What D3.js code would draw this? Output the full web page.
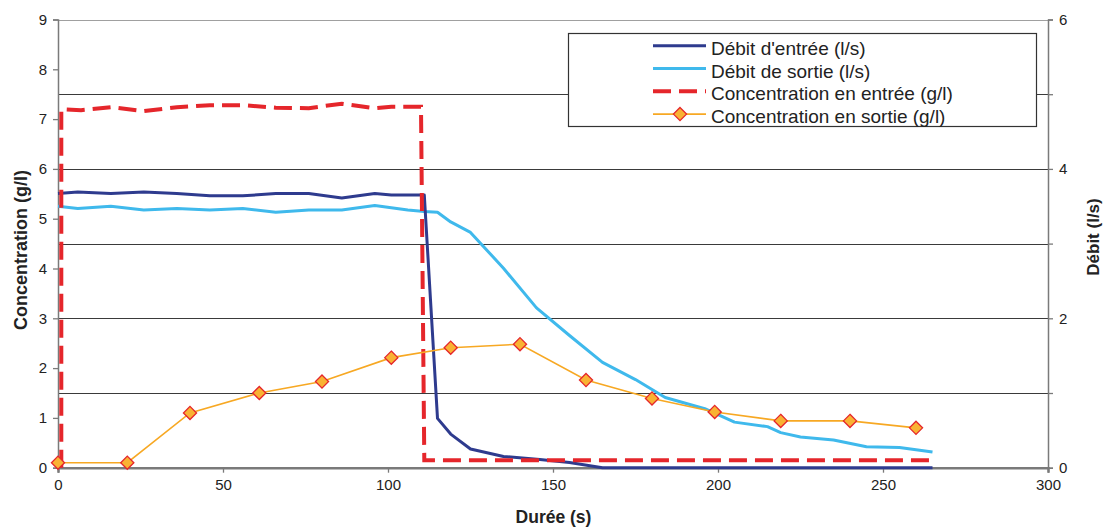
<!DOCTYPE html>
<html><head><meta charset="utf-8">
<script src="https://cdn.jsdelivr.net/npm/d3@7"></script>
<style>
body{margin:0;background:#fff;}
svg text{font-family:"Liberation Sans",Arial,sans-serif;fill:#222;}
</style></head>
<body><svg id="c" width="1104" height="528"></svg>
<script>
// Débit d'entrée (l/s) — right axis
const debitEntreeT = [0,6,16,26,36,46,56,66,76,86,96,101,111,115,119,125,135,146,155,165,175,185,195,205,215,225,235,245,255,265];
const debitEntreeV = [3.67,3.69,3.67,3.69,3.67,3.64,3.64,3.67,3.67,3.61,3.67,3.65,3.65,0.66,0.45,0.25,0.15,0.11,0.07,0,0,0,0,0,0,0,0,0,0,0];
// Débit de sortie (l/s) — right axis
const debitSortieT = [0,6,16,26,36,46,56,66,76,86,96,106,111,115,119,125,135,145,155,165,175,184,196,205,215,219,225,235,245,255,265];
const debitSortieV = [3.50,3.47,3.50,3.45,3.47,3.45,3.47,3.42,3.45,3.45,3.51,3.45,3.43,3.42,3.29,3.15,2.67,2.14,1.77,1.41,1.18,0.94,0.79,0.61,0.55,0.47,0.41,0.37,0.28,0.27,0.21];
// Concentration en entrée (g/l) — left axis
const concEntreeT = [1,1,7,16,26,36,46,56,66,76,86,96,101,110,111,114,125,135,145,155,165,175,185,195,205,215,225,235,245,255,265];
const concEntreeV = [0,7.20,7.18,7.24,7.16,7.24,7.28,7.28,7.23,7.22,7.31,7.22,7.25,7.25,0.15,0.15,0.15,0.15,0.15,0.15,0.15,0.15,0.15,0.15,0.15,0.15,0.15,0.15,0.15,0.15,0.15];
// Concentration en sortie (g/l) — left axis
const concSortieT = [0,21,40,61,80,101,119,140,160,180,199,219,240,260];
const concSortieV = [0.1,0.1,1.1,1.5,1.73,2.21,2.41,2.48,1.76,1.39,1.12,0.94,0.94,0.80];

const xTicks = [0,50,100,150,200,250,300];
const yLeftTicks = [0,1,2,3,4,5,6,7,8,9];
const yRightTicks = [0,1,2,3,4,5,6];
const yRightLabels = [0,2,4,6];
const legendLabels = ["Débit d'entrée (l/s)","Débit de sortie (l/s)","Concentration en entrée (g/l)","Concentration en sortie (g/l)"];

const L=58, R=1048, T=19.5, B=467.7;
const svg = d3.select("#c");
const x = d3.scaleLinear().domain([0,300]).range([L,R]);
const yL = d3.scaleLinear().domain([0,9]).range([B,T]);
const yR = d3.scaleLinear().domain([0,6]).range([B,T]);

// gridlines (right axis majors)
svg.append("g").selectAll("line").data(yRightTicks.filter(d=>d>0)).join("line")
  .attr("x1",L).attr("x2",R).attr("y1",d=>Math.round(yR(d))+0.5).attr("y2",d=>Math.round(yR(d))+0.5)
  .attr("stroke",d=>d===6?"#a0a0a0":"#3a3a3a").attr("stroke-width",1);

// axes
const fmt = d3.format("d");
const gL = svg.append("g").attr("transform",`translate(${L},0)`)
  .call(d3.axisLeft(yL).tickValues(yLeftTicks).tickFormat(fmt).tickSize(5).tickPadding(6));
const gR = svg.append("g").attr("transform",`translate(${R},0)`)
  .call(d3.axisRight(yR).tickValues(yRightTicks).tickFormat(d=>yRightLabels.includes(d)?fmt(d):"").tickSize(5).tickPadding(6));
const gB = svg.append("g").attr("transform",`translate(0,${B})`)
  .call(d3.axisBottom(x).tickValues(xTicks).tickFormat(fmt).tickSize(5).tickPadding(7));
[gL,gR,gB].forEach(g=>{
  g.selectAll("path.domain").attr("stroke","#7a7a7a").attr("stroke-width",1.5);
  g.selectAll(".tick line").attr("stroke","#7a7a7a").attr("stroke-width",1.3);
  g.selectAll(".tick text").style("font-size","15px").attr("fill","#222");
});
gB.select("path.domain").attr("stroke-width",2.5);

// series
const lineR = d3.line().x(d=>x(d[0])).y(d=>yR(d[1]));
const lineL = d3.line().x(d=>x(d[0])).y(d=>yL(d[1]));
const zip=(a,b)=>a.map((t,i)=>[t,b[i]]);

svg.append("path").datum(zip(debitSortieT,debitSortieV)).attr("d",lineR)
  .attr("fill","none").attr("stroke","#3fb9ec").attr("stroke-width",3).attr("stroke-linejoin","round");
svg.append("path").datum(zip(debitEntreeT,debitEntreeV)).attr("d",lineR)
  .attr("fill","none").attr("stroke","#2e3b8e").attr("stroke-width",3).attr("stroke-linejoin","round");
svg.append("path").datum(zip(concEntreeT,concEntreeV)).attr("d",lineL)
  .attr("fill","none").attr("stroke","#e5262b").attr("stroke-width",4).attr("stroke-dasharray","18,8");
const cs = zip(concSortieT,concSortieV);
svg.append("path").datum(cs).attr("d",lineL)
  .attr("fill","none").attr("stroke","#f7a823").attr("stroke-width",1.6);
const diamond = d3.symbol().type(d3.symbolDiamond2).size(110);
svg.append("g").selectAll("path").data(cs).join("path")
  .attr("transform",d=>`translate(${x(d[0])},${yL(d[1])})`).attr("d",diamond)
  .attr("fill","#f9b233").attr("stroke","#e5262b").attr("stroke-width",1.3);

// legend
const lg = svg.append("g");
lg.append("rect").attr("x",568.5).attr("y",33.5).attr("width",468).attr("height",93)
  .attr("fill","#fff").attr("stroke","#333").attr("stroke-width",1.2);
const styles = [
  {c:"#2e3b8e",w:3,dash:null,m:false},
  {c:"#3fb9ec",w:3,dash:null,m:false},
  {c:"#e5262b",w:4,dash:"18,8",m:false},
  {c:"#f7a823",w:1.6,dash:null,m:true}
];
legendLabels.forEach((t,i)=>{
  const yy = 45.7 + i*22.8;
  const ln = lg.append("line").attr("x1",653).attr("x2",706).attr("y1",yy).attr("y2",yy)
    .attr("stroke",styles[i].c).attr("stroke-width",styles[i].w);
  if(styles[i].dash) ln.attr("stroke-dasharray",styles[i].dash);
  if(styles[i].m) lg.append("path").attr("transform",`translate(680,${yy})`).attr("d",diamond)
    .attr("fill","#f9b233").attr("stroke","#e5262b").attr("stroke-width",1.3);
  lg.append("text").attr("x",711).attr("y",yy+9).style("font-size","19px").text(t);
});

// titles
svg.append("text").attr("transform","translate(27,250) rotate(-90)").attr("text-anchor","middle")
  .style("font-size","18px").style("font-weight","bold").text("Concentration (g/l)");
svg.append("text").attr("transform","translate(1099,237) rotate(-90)").attr("text-anchor","middle")
  .style("font-size","17px").style("font-weight","bold").text("Débit (l/s)");
svg.append("text").attr("x",553.5).attr("y",523).attr("text-anchor","middle")
  .style("font-size","17.5px").style("font-weight","bold").text("Durée (s)");
</script></body></html>
